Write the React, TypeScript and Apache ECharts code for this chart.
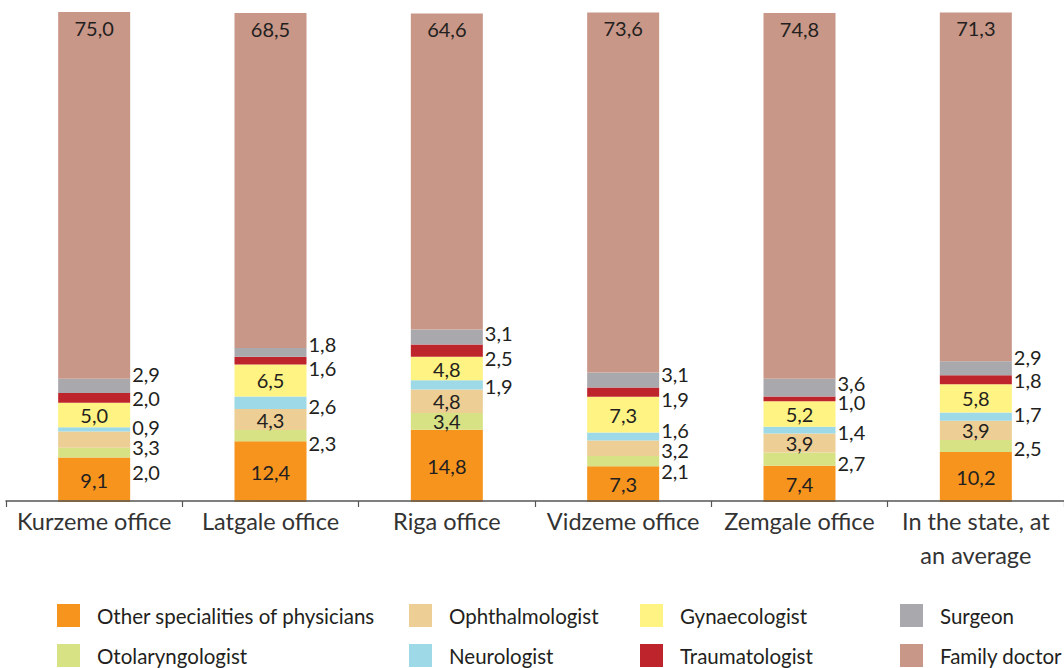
import React, { useEffect, useRef } from "react";
import * as echarts from "echarts";

const categories = [
  "Kurzeme office",
  "Latgale office",
  "Riga office",
  "Vidzeme office",
  "Zemgale office",
  "In the state, at\nan average",
];

const other = [9.1, 12.4, 14.8, 7.3, 7.4, 10.2];
const otolaryngologist = [2.0, 2.3, 3.4, 2.1, 2.7, 2.5];
const ophthalmologist = [3.3, 4.3, 4.8, 3.2, 3.9, 3.9];
const neurologist = [0.9, 2.6, 1.9, 1.6, 1.4, 1.7];
const gynaecologist = [5.0, 6.5, 4.8, 7.3, 5.2, 5.8];
const traumatologist = [2.0, 1.6, 2.5, 1.9, 1.0, 1.8];
const surgeon = [2.9, 1.8, 3.1, 3.1, 3.6, 2.9];
const familyDoctor = [75.0, 68.5, 64.6, 73.6, 74.8, 71.3];

// label placement (layout only): "in" = inside the segment, "r" = to the right
const otoPlace = ["r", "r", "in", "r", "r", "r"];
const ophPlace = ["r", "in", "in", "r", "in", "in"];
// vertical nudges of right-side labels (px)
const otoShift = [19, 7, 0, 10, 4, 2];
const ophShift = [7, 0, 0, 2, 0, 0];
const neuShift = [-2.5, 3.5, 1, -6.5, 1.5, -2.5];
const traShift = [0, 7.5, 7.5, 7, 3, 0];
const surShift = [-12, -8, -4, -6, -4.5, -11.5];

const FONT = "Lato, 'Open Sans', sans-serif";
const fmt = (v: number) => v.toFixed(1).replace(".", ",");

export default function App() {
  const ref = useRef<HTMLDivElement>(null);

  useEffect(() => {
    if (!ref.current) return;
    const chart = echarts.init(ref.current, undefined, { renderer: "svg" });

    const labelBase = {
      show: true,
      color: "#231f20",
      fontFamily: FONT,
      fontSize: 20,
      lineHeight: 17,
      formatter: (p: any) => fmt(p.value),
    };

    const mk = (
      name: string,
      color: string,
      values: number[],
      place: (i: number) => "in" | "r",
      shift: number[] | null
    ) => ({
      name,
      type: "bar",
      stack: "total",
      barWidth: 72,
      clip: false,
      itemStyle: { color },
      emphasis: { disabled: true },
      data: values.map((v, i) => {
        const p = place(i);
        return {
          value: v,
          label:
            p === "in"
              ? { ...labelBase, position: "inside" }
              : {
                  ...labelBase,
                  position: "right",
                  distance: 2,
                  offset: [0, shift ? shift[i] : 0],
                },
        };
      }),
    });

    const legendCommon = {
      orient: "vertical",
      top: 604,
      itemWidth: 23,
      itemHeight: 23,
      itemGap: 17,
      icon: "rect",
      selectedMode: false,
      padding: 0,
      textStyle: {
        fontFamily: FONT,
        fontSize: 20.5,
        color: "#231f20",
        padding: [0, 0, 0, 12],
      },
    };

    chart.setOption({
      animation: false,
      backgroundColor: "#ffffff",
      legend: [
        { ...legendCommon, left: 57, data: ["Other specialities of physicians", "Otolaryngologist"] },
        { ...legendCommon, left: 409, data: ["Ophthalmologist", "Neurologist"] },
        { ...legendCommon, left: 640, data: ["Gynaecologist", "Traumatologist"] },
        { ...legendCommon, left: 900, data: ["Surgeon", "Family doctor"] },
      ],
      grid: { left: 6, right: -8, top: 13, bottom: 166 },
      xAxis: {
        type: "category",
        data: categories,
        z: 5,
        axisLine: { show: true, onZero: false, lineStyle: { color: "#555555", width: 1.5 } },
        offset: -1,
        axisTick: { show: true, length: 6, lineStyle: { color: "#555555", width: 1.2 } },
        axisLabel: {
          fontFamily: FONT,
          fontSize: 23.5,
          color: "#333333",
          margin: 3,
          lineHeight: 34,
          interval: 0,
        },
      },
      yAxis: {
        type: "value",
        min: 0,
        max: 100,
        show: false,
        splitLine: { show: false },
      },
      series: [
        mk("Other specialities of physicians", "#F7941D", other, () => "in", null),
        mk("Otolaryngologist", "#D7E285", otolaryngologist, (i) => otoPlace[i] as any, otoShift),
        mk("Ophthalmologist", "#EDCE94", ophthalmologist, (i) => ophPlace[i] as any, ophShift),
        mk("Neurologist", "#9DD9E6", neurologist, () => "r", neuShift),
        mk("Gynaecologist", "#FFF383", gynaecologist, () => "in", null),
        mk("Traumatologist", "#BE242C", traumatologist, () => "r", traShift),
        mk("Surgeon", "#A9A8AD", surgeon, () => "r", surShift),
        {
          ...mk("Family doctor", "#C89788", familyDoctor, () => "in", null),
          data: familyDoctor.map((v) => ({
            value: v,
            label: { ...labelBase, position: "insideTop", distance: 7 },
          })),
        },
      ],
    });

    return () => chart.dispose();
  }, []);

  return (
    <div
      ref={ref}
      style={{ position: "absolute", left: 0, top: 0, width: 1064, height: 668, overflow: "hidden" }}
    />
  );
}
